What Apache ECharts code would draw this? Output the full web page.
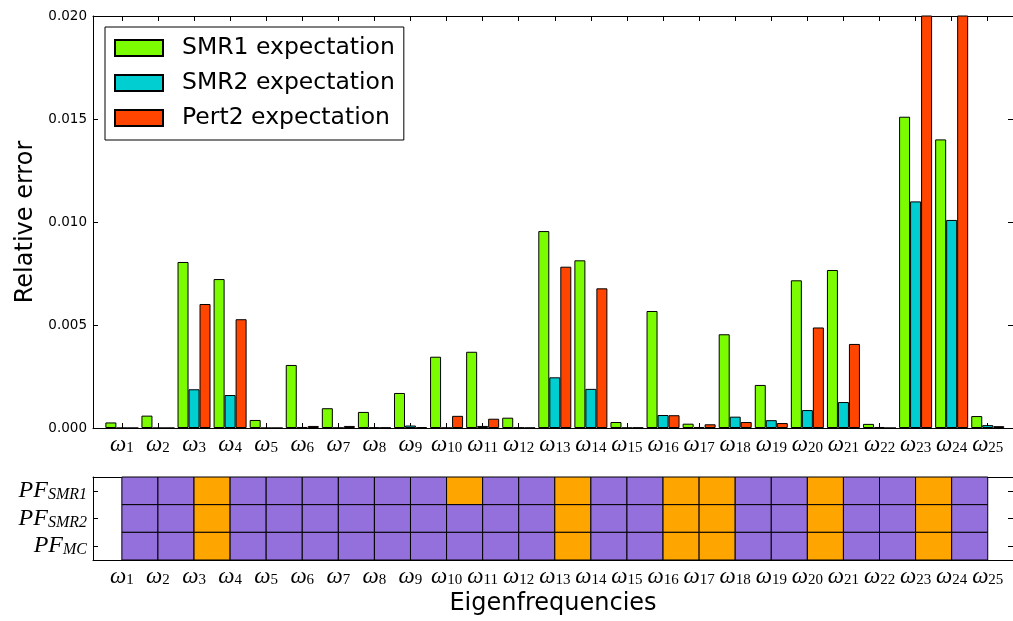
<!DOCTYPE html>
<html>
<head>
<meta charset="utf-8">
<script src="https://cdn.jsdelivr.net/npm/echarts@6/dist/echarts.min.js"></script>
<style>html,body{margin:0;padding:0;background:#fff}#c{width:1013px;height:621px}</style>
</head>
<body>
<div id="c"></div>
<script>
// ---- data ----
const modes = ['1','2','3','4','5','6','7','8','9','10','11','12','13','14','15','16','17','18','19','20','21','22','23','24','25'];
const smr1 = [0.00027,0.0006,0.00806,0.00723,0.00039,0.00306,0.00096,0.00078,0.0017,0.00346,0.0037,0.0005,0.00956,0.00814,0.00029,0.00568,0.00021,0.00455,0.00209,0.00717,0.00767,0.0002,0.01511,0.01401,0.00058];
const smr2 = [0,0,0.00188,0.0016,0,0.00005,0.00001,0.00002,0.00012,0.00001,0.0001,0.00002,0.00246,0.0019,0.00001,0.00063,0.00005,0.00055,0.00038,0.00087,0.00126,0.00005,0.011,0.0101,0.00014];
const pert2 = [0,0,0.00602,0.00528,0,0.0001,0.0001,0.00002,0.00004,0.00059,0.00045,0.00001,0.00783,0.00678,0.00002,0.00062,0.00018,0.00029,0.00024,0.00488,0.00408,0,0.028,0.028,0.00009];
const yTicks = [0, 0.005, 0.010, 0.015, 0.020];
// pass/fail rows (1 = orange, 0 = purple), one cell between consecutive eigenfrequencies
const pfRows = ['SMR1','SMR2','MC'];
const pfSMR1 = [0,0,1,0,0,0,0,0,0,1,0,0,1,0,0,1,1,0,0,1,0,0,1,0];
const pfSMR2 = [0,0,1,0,0,0,0,0,0,0,0,0,1,0,0,1,1,0,0,1,0,0,1,0];
const pfMC   = [0,0,1,0,0,0,0,0,0,0,0,0,1,0,0,1,1,0,0,1,0,0,1,0];

const seriesNames = ['SMR1 expectation','SMR2 expectation','Pert2 expectation'];
const colors = ['#7CFC00','#00CED1','#FF4500'];
const cellColors = ['#9370DB','#FFA500'];

const xMin = -0.8, xMax = 24.7;
const tickIdx = modes.map((m,i)=>i);
const SANS = 'DejaVu Sans';
const SERIF = 'Liberation Serif';

const omegaRich = {
  w:{fontFamily:SERIF,fontStyle:'italic',fontSize:23,lineHeight:23,verticalAlign:'top',color:'#000'},
  s:{fontFamily:SERIF,fontSize:15,lineHeight:15,padding:[11,0,0,0],verticalAlign:'bottom',color:'#000'}
};
const omegaLabel = v => '{w|ω}{s|' + modes[Math.round(v)] + '}';

const pfData = [];
[pfSMR1,pfSMR2,pfMC].forEach((row,r)=>row.forEach((f,c)=>pfData.push([c,r,f])));

function toPairs(arr){ return arr.map((v,i)=>[i,v]); }

const chart = echarts.init(document.getElementById('c'), null, {renderer:'canvas'});
const axisLineBlack = {show:true, onZero:false, lineStyle:{color:'#000', width:1}};

chart.setOption({
  animation:false,
  backgroundColor:'#fff',
  textStyle:{fontFamily:SANS},
  grid:[
    {left:93, right:-3, top:16, height:412, containLabel:false},
    {left:93, right:-3, top:477, height:83, containLabel:false}
  ],
  legend:{
    left:105, top:27,
    orient:'vertical',
    data:seriesNames,
    icon:'rect',
    itemWidth:48, itemHeight:16, itemGap:11,
    padding:[9,9,10,9],
    borderColor:'#000', borderWidth:1, borderRadius:0,
    backgroundColor:'#fff',
    selectedMode:false,
    textStyle:{fontFamily:SANS,fontSize:23.5,color:'#000',padding:[0,0,0,14]}
  },
  xAxis:[
    {gridIndex:0, type:'value', min:xMin, max:xMax, position:'bottom',
     axisLine:axisLineBlack, splitLine:{show:false},
     axisTick:{show:true, inside:true, length:5, customValues:tickIdx, lineStyle:{color:'#000'}},
     axisLabel:{show:true, customValues:tickIdx, margin:5, formatter:omegaLabel, rich:omegaRich}},
    {gridIndex:0, type:'value', min:xMin, max:xMax, position:'top',
     axisLine:axisLineBlack, splitLine:{show:false},
     axisTick:{show:true, inside:true, length:5, customValues:tickIdx, lineStyle:{color:'#000'}},
     axisLabel:{show:false}},
    {gridIndex:1, type:'value', min:xMin, max:xMax, position:'bottom',
     axisLine:axisLineBlack, splitLine:{show:false},
     axisTick:{show:false},
     axisLabel:{show:true, customValues:tickIdx, margin:5, formatter:omegaLabel, rich:omegaRich},
     name:'Eigenfrequencies', nameLocation:'middle', nameGap:32,
     nameTextStyle:{fontFamily:SANS,fontSize:24,color:'#000'}},
    {gridIndex:1, type:'value', min:xMin, max:xMax, position:'top',
     axisLine:axisLineBlack, splitLine:{show:false},
     axisTick:{show:false}, axisLabel:{show:false}}
  ],
  yAxis:[
    {gridIndex:0, type:'value', min:0, max:0.02, interval:0.005, position:'left',
     axisLine:axisLineBlack, splitLine:{show:false},
     axisTick:{show:true, inside:true, length:5, lineStyle:{color:'#000'}},
     axisLabel:{show:true, margin:6, fontFamily:SANS, fontSize:13.5, color:'#000',
       customValues:yTicks, formatter:v=>v.toFixed(3)},
     name:'Relative error', nameLocation:'middle', nameGap:45,
     nameTextStyle:{fontFamily:SANS,fontSize:24,color:'#000'}},
    {gridIndex:0, type:'value', min:0, max:0.02, interval:0.005, position:'right',
     axisLine:axisLineBlack, splitLine:{show:false},
     axisTick:{show:true, inside:true, length:5, lineStyle:{color:'#000'}},
     axisLabel:{show:false}},
    {gridIndex:1, type:'category', data:pfRows, inverse:true, position:'left',
     axisLine:axisLineBlack, splitLine:{show:false},
     axisTick:{show:true, inside:true, length:5, alignWithLabel:true, lineStyle:{color:'#000'}},
     axisLabel:{show:true, margin:6, formatter:v=>'{p|PF}{s|'+v+'}',
       rich:{
         p:{fontFamily:SERIF,fontStyle:'italic',fontSize:24,lineHeight:24,verticalAlign:'top',color:'#000'},
         s:{fontFamily:SERIF,fontStyle:'italic',fontSize:16,lineHeight:16,padding:[11,0,0,0],verticalAlign:'bottom',color:'#000'}
       }}},
    {gridIndex:1, type:'category', data:pfRows, inverse:true, position:'right',
     axisLine:axisLineBlack, splitLine:{show:false},
     axisTick:{show:true, inside:true, length:5, alignWithLabel:true, lineStyle:{color:'#000'}},
     axisLabel:{show:false}}
  ],
  series:[
    {name:seriesNames[0], type:'bar', xAxisIndex:0, yAxisIndex:0, data:toPairs(smr1),
     barWidth:11, barGap:'0%', itemStyle:{color:colors[0], borderColor:'#000', borderWidth:1}},
    {name:seriesNames[1], type:'bar', xAxisIndex:0, yAxisIndex:0, data:toPairs(smr2),
     barWidth:11, barGap:'0%', itemStyle:{color:colors[1], borderColor:'#000', borderWidth:1}},
    {name:seriesNames[2], type:'bar', xAxisIndex:0, yAxisIndex:0, data:toPairs(pert2),
     barWidth:11, barGap:'0%', itemStyle:{color:colors[2], borderColor:'#000', borderWidth:1}},
    {type:'custom', xAxisIndex:2, yAxisIndex:2, data:pfData, encode:{x:0,y:1},
     renderItem:function(params, api){
       const c = api.value(0), r = api.value(1), f = api.value(2);
       const p0 = api.coord([c, r]);
       const p1 = api.coord([c+1, r]);
       const sz = api.size([1, 1]);
       return {type:'rect',
         shape:{x:p0[0], y:p0[1]-sz[1]/2, width:p1[0]-p0[0], height:sz[1]},
         style:{fill:cellColors[f], stroke:'#000', lineWidth:1}};
     }}
  ]
});
</script>
</body>
</html>
